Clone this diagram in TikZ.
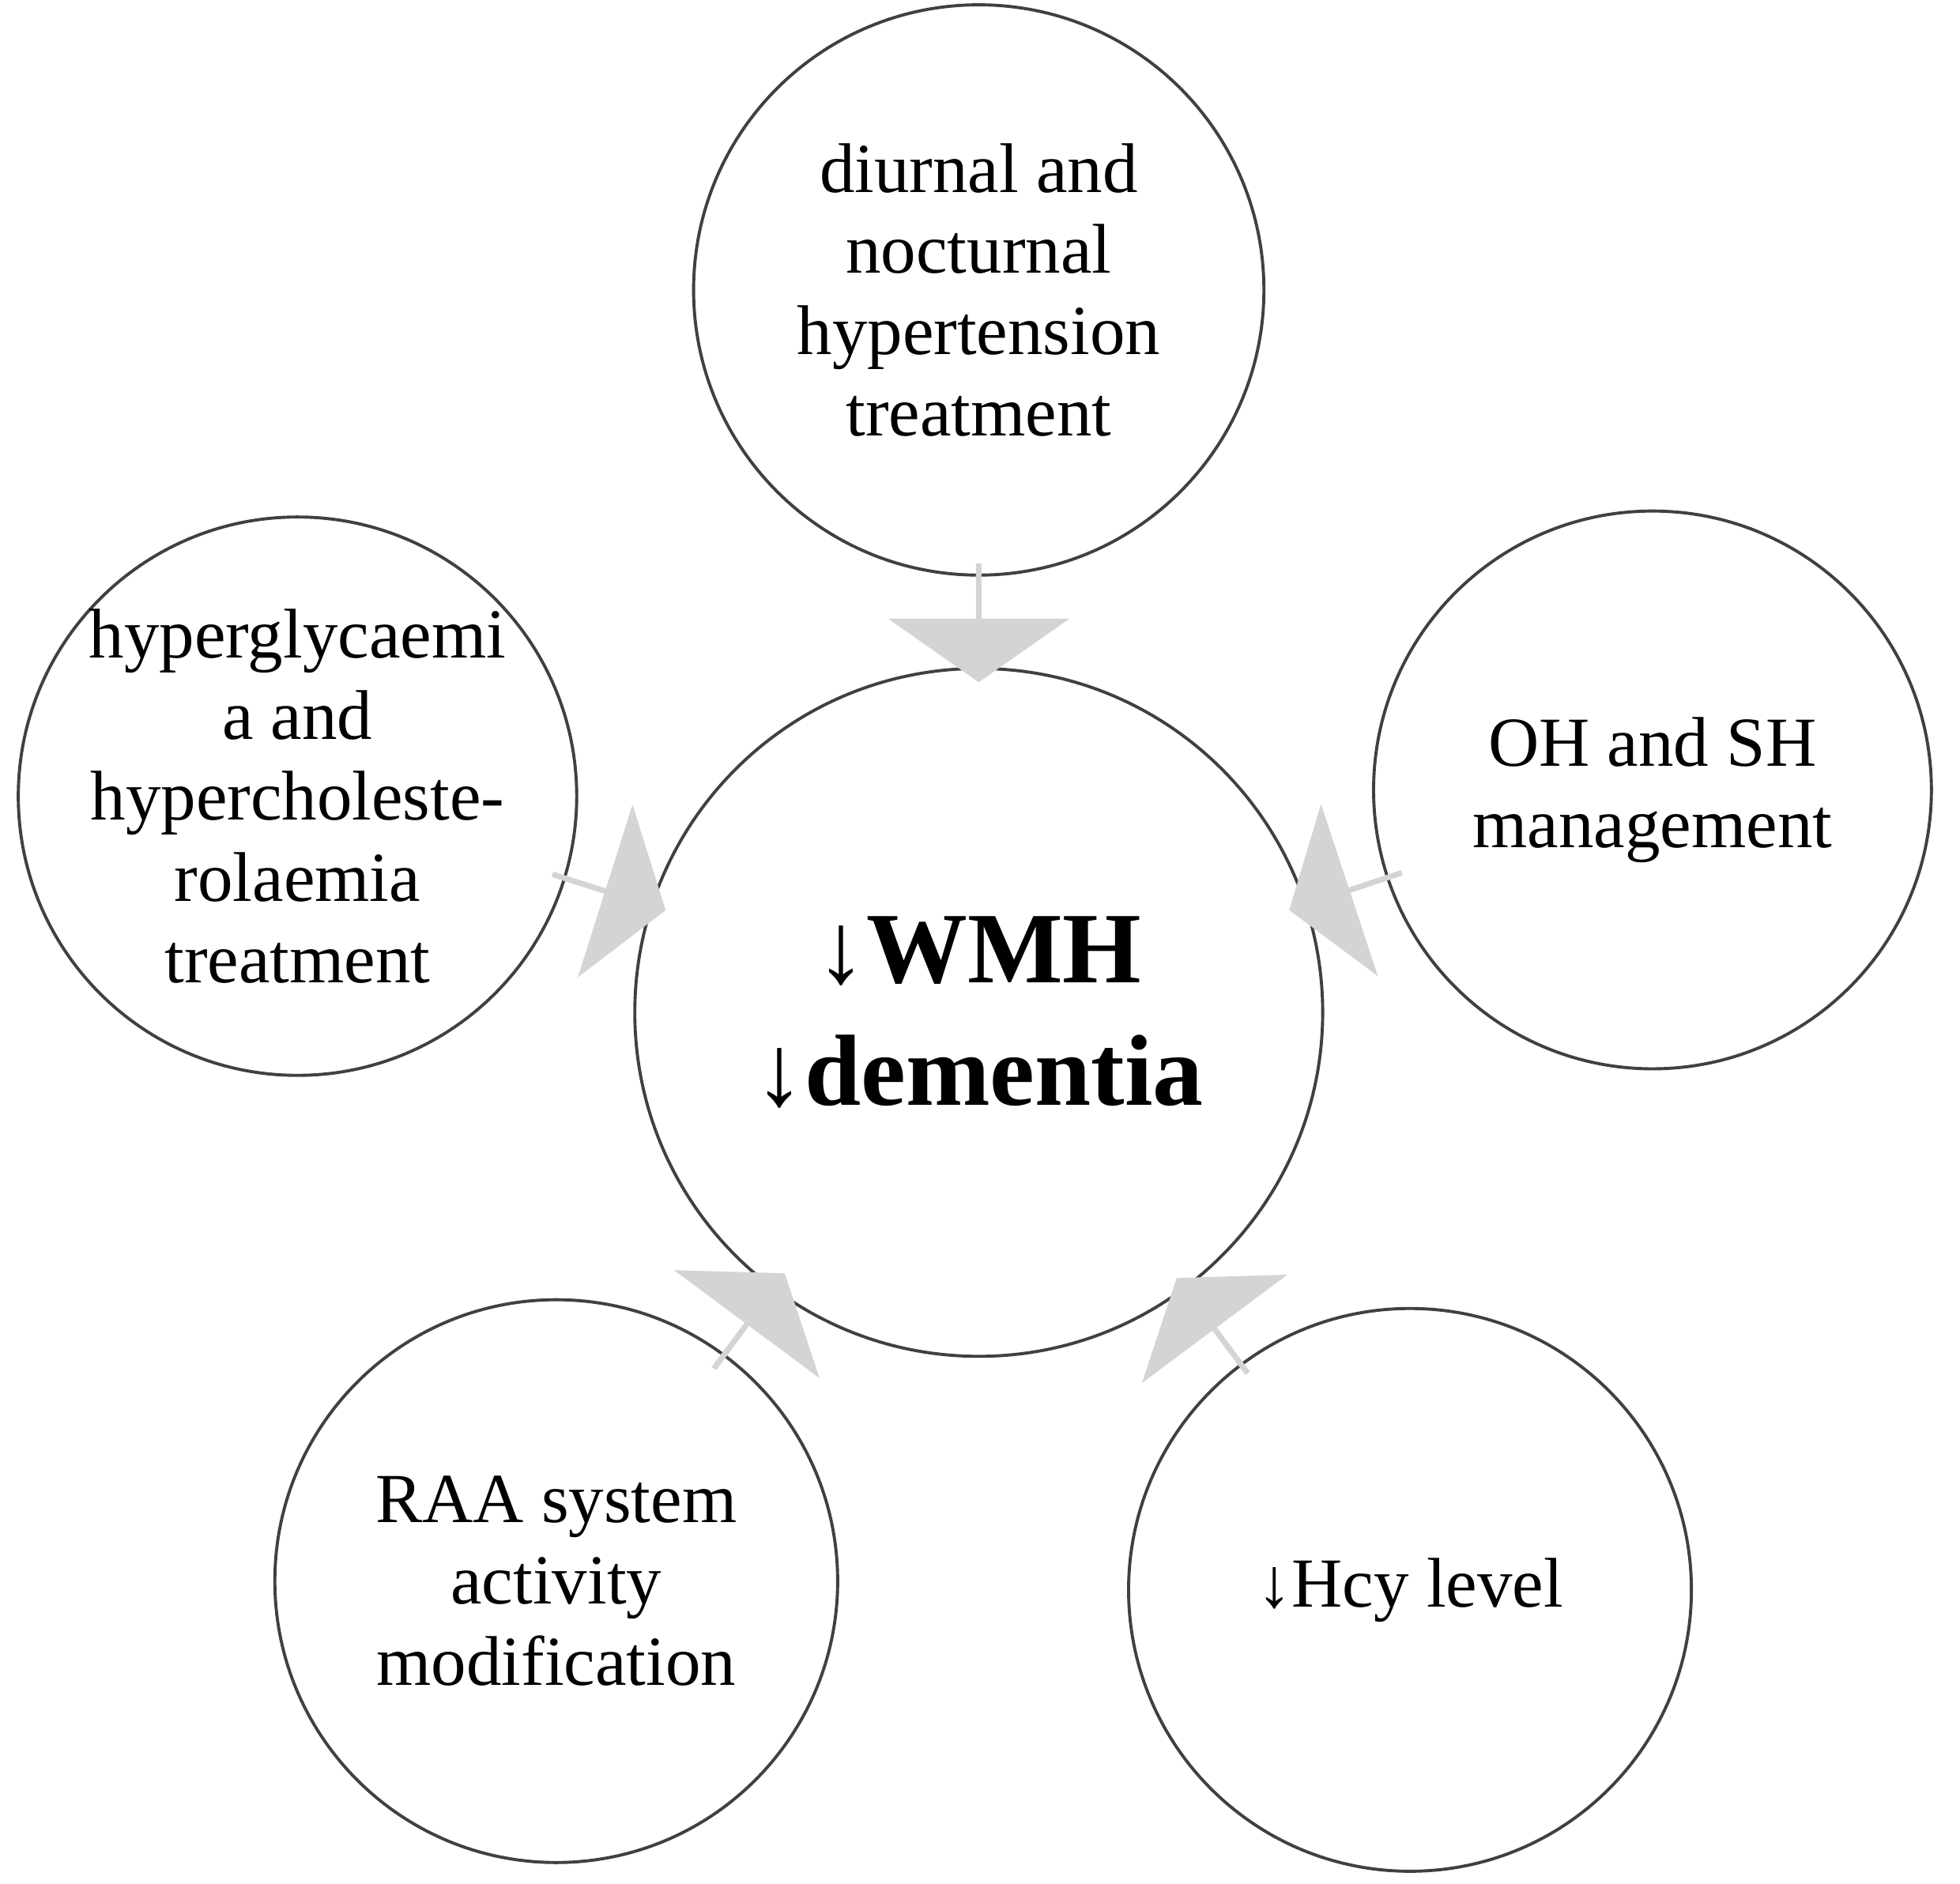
\documentclass[tikz,border=0pt]{standalone}
\usepackage{fontspec}
\setmainfont{Liberation Serif}
\usetikzlibrary{shapes.arrows,calc}
\begin{document}
\begin{tikzpicture}[x=0.01cm,y=-0.01cm,
  circ/.style={circle,draw=black!75,line width=0.7pt,align=center,inner sep=0pt,font=\fontsize{16}{18.5}\selectfont},
  blk/.style={single arrow,fill=black!17,draw=none,minimum height=0.95cm,minimum width=1.45cm,single arrow head extend=0.22cm,single arrow tip angle=110,inner sep=0pt}]
\useasboundingbox (0,0) rectangle (1568,1507);
\node[circ,minimum size=5.5cm,font=\bfseries\fontsize{23}{28}\selectfont] (c) at (783,810) {↓WMH\\↓dementia};
\node[circ,minimum size=4.56cm] (t) at (783,232) {diurnal and\\nocturnal\\hypertension\\treatment};
\node[circ,minimum size=4.44cm] (l) at (238,637) {hyperglycaemi\\a and\\hypercholeste-\\rolaemia\\treatment};
\node[circ,minimum size=4.46cm] (r) at (1322,632) {OH and SH\\management};
\node[circ,minimum size=4.5cm] (bl) at (445,1265) {RAA system\\activity\\modification};
\node[circ,minimum size=4.5cm] (br) at (1128,1272) {↓Hcy level};
\node[blk,rotate=-90] (at) at ($(t.-90)!0.5!(c.90)$) {};
\node[blk,rotate=-17.6] (al) at ($(l.-17.6)!0.5!(c.162.4)$) {};
\node[blk,rotate=198.3] (ar) at ($(r.198.3)!0.5!(c.18.3)$) {};
\node[blk,rotate=53.4] (abl) at ($(bl.53.4)!0.5!(c.233.4)$) {};
\node[blk,rotate=126.7] (abr) at ($(br.126.7)!0.5!(c.306.7)$) {};
\end{tikzpicture}
\end{document}
